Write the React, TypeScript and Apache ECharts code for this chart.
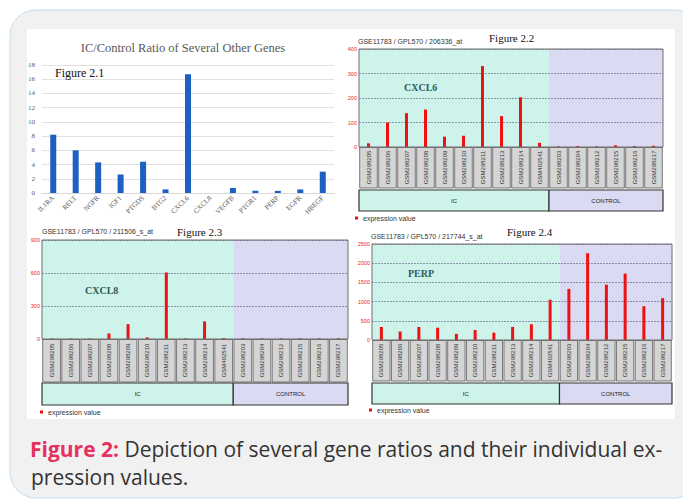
import React, { useEffect, useRef } from "react";
import * as echarts from "echarts";

const SANS = '"Liberation Sans", Arial, sans-serif';
const SERIF = '"Liberation Serif", "Times New Roman", serif';
const CAPTION_FONT = '"Open Sans", "Noto Sans", sans-serif';

// ---- data ----
const ratioGenes = ["IL1RA", "RELT", "NGFR", "IGF1", "PTGDS", "BTG2", "CXCL6", "CXCL8", "VEGFB", "PTGR1", "PERP", "EGFR", "HBEGF"];
const ratioValues = [8.2, 6.0, 4.3, 2.6, 4.4, 0.5, 16.7, 0, 0.7, 0.3, 0.3, 0.5, 3.0];

const sampleIds = [
  "GSM298205", "GSM298206", "GSM298207", "GSM298208", "GSM298209", "GSM298210", "GSM298211", "GSM298213",
  "GSM298214", "GSM402541", "GSM298203", "GSM298204", "GSM298212", "GSM298215", "GSM298216", "GSM298217",
];
const groupNames = ["IC", "CONTROL"];
const groupStart = [0, 10];
const groupEnd = [9, 15];

const cxcl6Values = [15, 100, 138, 153, 42, 46, 330, 126, 203, 17, 3, 4, 3, 7, 4, 5];
const cxcl8Values = [5, 5, 4, 50, 135, 15, 605, 5, 160, 8, 6, 5, 6, 6, 6, 6];
const perpValues = [340, 220, 340, 320, 160, 260, 190, 340, 410, 1050, 1330, 2260, 1440, 1730, 880, 1090];

const groupColors = ["#cdf3eb", "#dadaf3"];

type Panel = {
  values: number[];
  max: number;
  interval: number;
  left: number;
  top: number;
  width: number;
  height: number;
  labelH: number;
  gap: number;
  groupH: number;
  probe: string;
  probeXY: [number, number];
  fig: string;
  figXY: [number, number];
  gene: string;
  geneXY: [number, number];
  legXY: [number, number];
};

const panels: Panel[] = [
  {
    values: cxcl6Values, max: 400, interval: 100,
    left: 359, top: 49, width: 304, height: 98, labelH: 41, gap: 2, groupH: 21,
    probe: "GSE11783 / GPL570 / 206336_at", probeXY: [358, 41],
    fig: "Figure 2.2", figXY: [489, 38], gene: "CXCL6", geneXY: [404, 87], legXY: [355, 218],
  },
  {
    values: cxcl8Values, max: 900, interval: 300,
    left: 42, top: 240, width: 306, height: 99, labelH: 43, gap: 1, groupH: 22,
    probe: "GSE11783 / GPL570 / 211506_s_at", probeXY: [42, 231],
    fig: "Figure 2.3", figXY: [177, 232], gene: "CXCL8", geneXY: [85, 290], legXY: [40, 412],
  },
  {
    values: perpValues, max: 2500, interval: 500,
    left: 372, top: 244, width: 300, height: 96, labelH: 41, gap: 2, groupH: 21,
    probe: "GSE11783 / GPL570 / 217744_s_at", probeXY: [371, 236],
    fig: "Figure 2.4", figXY: [507, 232], gene: "PERP", geneXY: [408, 273], legXY: [369, 410],
  },
];

function buildOption(): any {
  const grid: any[] = [{ left: 42, top: 65, width: 292, height: 128, show: false }];
  const xAxis: any[] = [
    {
      type: "category", gridIndex: 0, data: ratioGenes,
      axisLine: { show: true, lineStyle: { color: "#d9d9d9" } },
      axisTick: { show: false },
      axisLabel: { interval: 0, rotate: 45, fontSize: 7, fontFamily: SERIF, color: "#595959", margin: 4 },
    },
  ];
  const yAxis: any[] = [
    {
      type: "value", gridIndex: 0, min: 0, max: 18, interval: 2,
      axisLine: { show: false }, axisTick: { show: false },
      axisLabel: { fontSize: 7, fontFamily: SERIF, color: "#595959", margin: 7 },
      splitLine: { lineStyle: { color: "#d9d9d9", width: 0.8 } },
    },
  ];
  const series: any[] = [
    {
      type: "bar", xAxisIndex: 0, yAxisIndex: 0, data: ratioValues, barWidth: 6,
      itemStyle: { color: "#1c61c2" },
    },
  ];
  const graphic: any[] = [
    { type: "rect", z: -20, shape: { x: 0, y: 0, width: 683, height: 501 }, style: { fill: "#ffffff" } },
    { type: "rect", z: -19, shape: { x: 10, y: 10, width: 690, height: 488, r: 26 }, style: { fill: "#f1f1f1", stroke: "#c4deef", lineWidth: 1 } },
    { type: "rect", z: -18, shape: { x: 27, y: 29, width: 648, height: 390 }, style: { fill: "#ffffff" } },
    {
      type: "text", x: 183, y: 48, z: 10,
      style: { text: "IC/Control Ratio of Several Other Genes", fontFamily: SERIF, fontSize: 12.5, fill: "#595959", align: "center", verticalAlign: "middle" },
    },
    {
      type: "text", x: 55, y: 73, z: 10,
      style: { text: "Figure 2.1", fontFamily: SERIF, fontSize: 12, fill: "#111", align: "left", verticalAlign: "middle" },
    },
    {
      type: "text", x: 30, y: 449, z: 10,
      style: {
        text: "{r|Figure 2:} Depiction of several gene ratios and their individual ex-",
        fontFamily: CAPTION_FONT, fontSize: 21, fill: "#333333", verticalAlign: "middle",
        rich: { r: { fontFamily: CAPTION_FONT, fontSize: 21, fontWeight: "bold", fill: "#e8305f" } },
      },
    },
    {
      type: "text", x: 31, y: 477, z: 10,
      style: { text: "pression values.", fontFamily: CAPTION_FONT, fontSize: 21, fill: "#333333", verticalAlign: "middle" },
    },
  ];

  panels.forEach((p, k) => {
    const gi = k + 1;
    grid.push({
      left: p.left, top: p.top, width: p.width, height: p.height,
      show: true, borderColor: "#6f6f6f", borderWidth: 1, backgroundColor: "transparent", z: 6,
    });
    xAxis.push({
      type: "category", gridIndex: gi, data: sampleIds, boundaryGap: true,
      axisLine: { show: false }, axisTick: { show: false }, axisLabel: { show: false }, splitLine: { show: false },
    });
    yAxis.push({
      type: "value", gridIndex: gi, min: 0, max: p.max, interval: p.interval, z: 1.5,
      axisLine: { show: false }, axisTick: { show: false },
      axisLabel: { fontSize: 5.5, fontFamily: SANS, color: "#ee2222", margin: 2, formatter: (v: number) => String(v) },
      splitLine: { lineStyle: { color: "#6a6a8a", width: 0.7, type: [2, 1] } },
    });
    const labelH = p.labelH, gap = p.gap, groupH = p.groupH, max = p.max;
    series.push({
      type: "custom", xAxisIndex: gi, yAxisIndex: gi, z: 1,
      data: groupStart.map((s, j) => [s, groupEnd[j], 0]),
      encode: { x: [0, 1], y: 2 },
      renderItem: (params: any, api: any) => {
        const g = params.dataIndex;
        const s = api.value(0), e = api.value(1);
        const bw = api.size([1, 0])[0];
        const x0 = api.coord([s, 0])[0] - bw / 2;
        const x1 = api.coord([e, 0])[0] + bw / 2;
        const yb = api.coord([s, 0])[1];
        const yt = api.coord([s, max])[1];
        const gy = yb + labelH + gap;
        return {
          type: "group",
          children: [
            { type: "rect", shape: { x: x0, y: yt, width: x1 - x0, height: yb - yt }, style: { fill: groupColors[g] } },
            { type: "rect", shape: { x: x0, y: gy, width: x1 - x0, height: groupH }, style: { fill: groupColors[g], stroke: "#333", lineWidth: 1.2 } },
            {
              type: "text", x: (x0 + x1) / 2, y: gy + groupH / 2,
              style: { text: groupNames[g], fontFamily: SANS, fontSize: 6, fill: "#222", align: "center", verticalAlign: "middle" },
            },
          ],
        };
      },
    });
    series.push({
      type: "custom", xAxisIndex: gi, yAxisIndex: gi, z: 3,
      data: sampleIds.map((_, i) => [i, 0]),
      encode: { x: 0, y: 1 },
      renderItem: (params: any, api: any) => {
        const i = api.value(0);
        const pt = api.coord([i, 0]);
        const bw = api.size([1, 0])[0];
        return {
          type: "group",
          children: [
            {
              type: "rect", shape: { x: pt[0] - bw / 2 + 0.7, y: pt[1] + 0.5, width: bw - 1.4, height: labelH - 0.5 },
              style: { fill: "#d5d5d5", stroke: "#5a5a5a", lineWidth: 0.8 },
            },
            {
              type: "text", x: pt[0], y: pt[1] + labelH / 2, rotation: Math.PI / 2,
              style: { text: sampleIds[i], fontFamily: SANS, fontSize: 6, fill: "#333", align: "center", verticalAlign: "middle" },
            },
          ],
        };
      },
    });
    series.push({
      type: "bar", xAxisIndex: gi, yAxisIndex: gi, data: p.values, barWidth: 3, z: 4,
      itemStyle: { color: "#ee1111" },
    });
    graphic.push(
      { type: "text", x: p.probeXY[0], y: p.probeXY[1], z: 10, style: { text: p.probe, fontFamily: SANS, fontSize: 7, fill: "#333", verticalAlign: "middle" } },
      { type: "text", x: p.figXY[0], y: p.figXY[1], z: 10, style: { text: p.fig, fontFamily: SERIF, fontSize: 11, fill: "#111", verticalAlign: "middle" } },
      { type: "text", x: p.geneXY[0], y: p.geneXY[1], z: 10, style: { text: p.gene, fontFamily: SERIF, fontSize: 10, fontWeight: "bold", fill: "#2f5a5a", verticalAlign: "middle" } },
      { type: "rect", z: 10, shape: { x: p.legXY[0], y: p.legXY[1] - 1.5, width: 3, height: 3 }, style: { fill: "#ee1111" } },
      { type: "text", x: p.legXY[0] + 8, y: p.legXY[1], z: 10, style: { text: "expression value", fontFamily: SANS, fontSize: 7, fill: "#333", verticalAlign: "middle" } },
    );
  });

  return { animation: false, backgroundColor: "#ffffff", grid, xAxis, yAxis, series, graphic };
}

export default function App() {
  const ref = useRef<HTMLDivElement>(null);
  useEffect(() => {
    if (!ref.current) return;
    const chart = echarts.init(ref.current, undefined, { renderer: "svg" });
    chart.setOption(buildOption());
    return () => chart.dispose();
  }, []);
  return <div ref={ref} style={{ position: "fixed", left: 0, top: 0, width: 683, height: 501 }} />;
}
